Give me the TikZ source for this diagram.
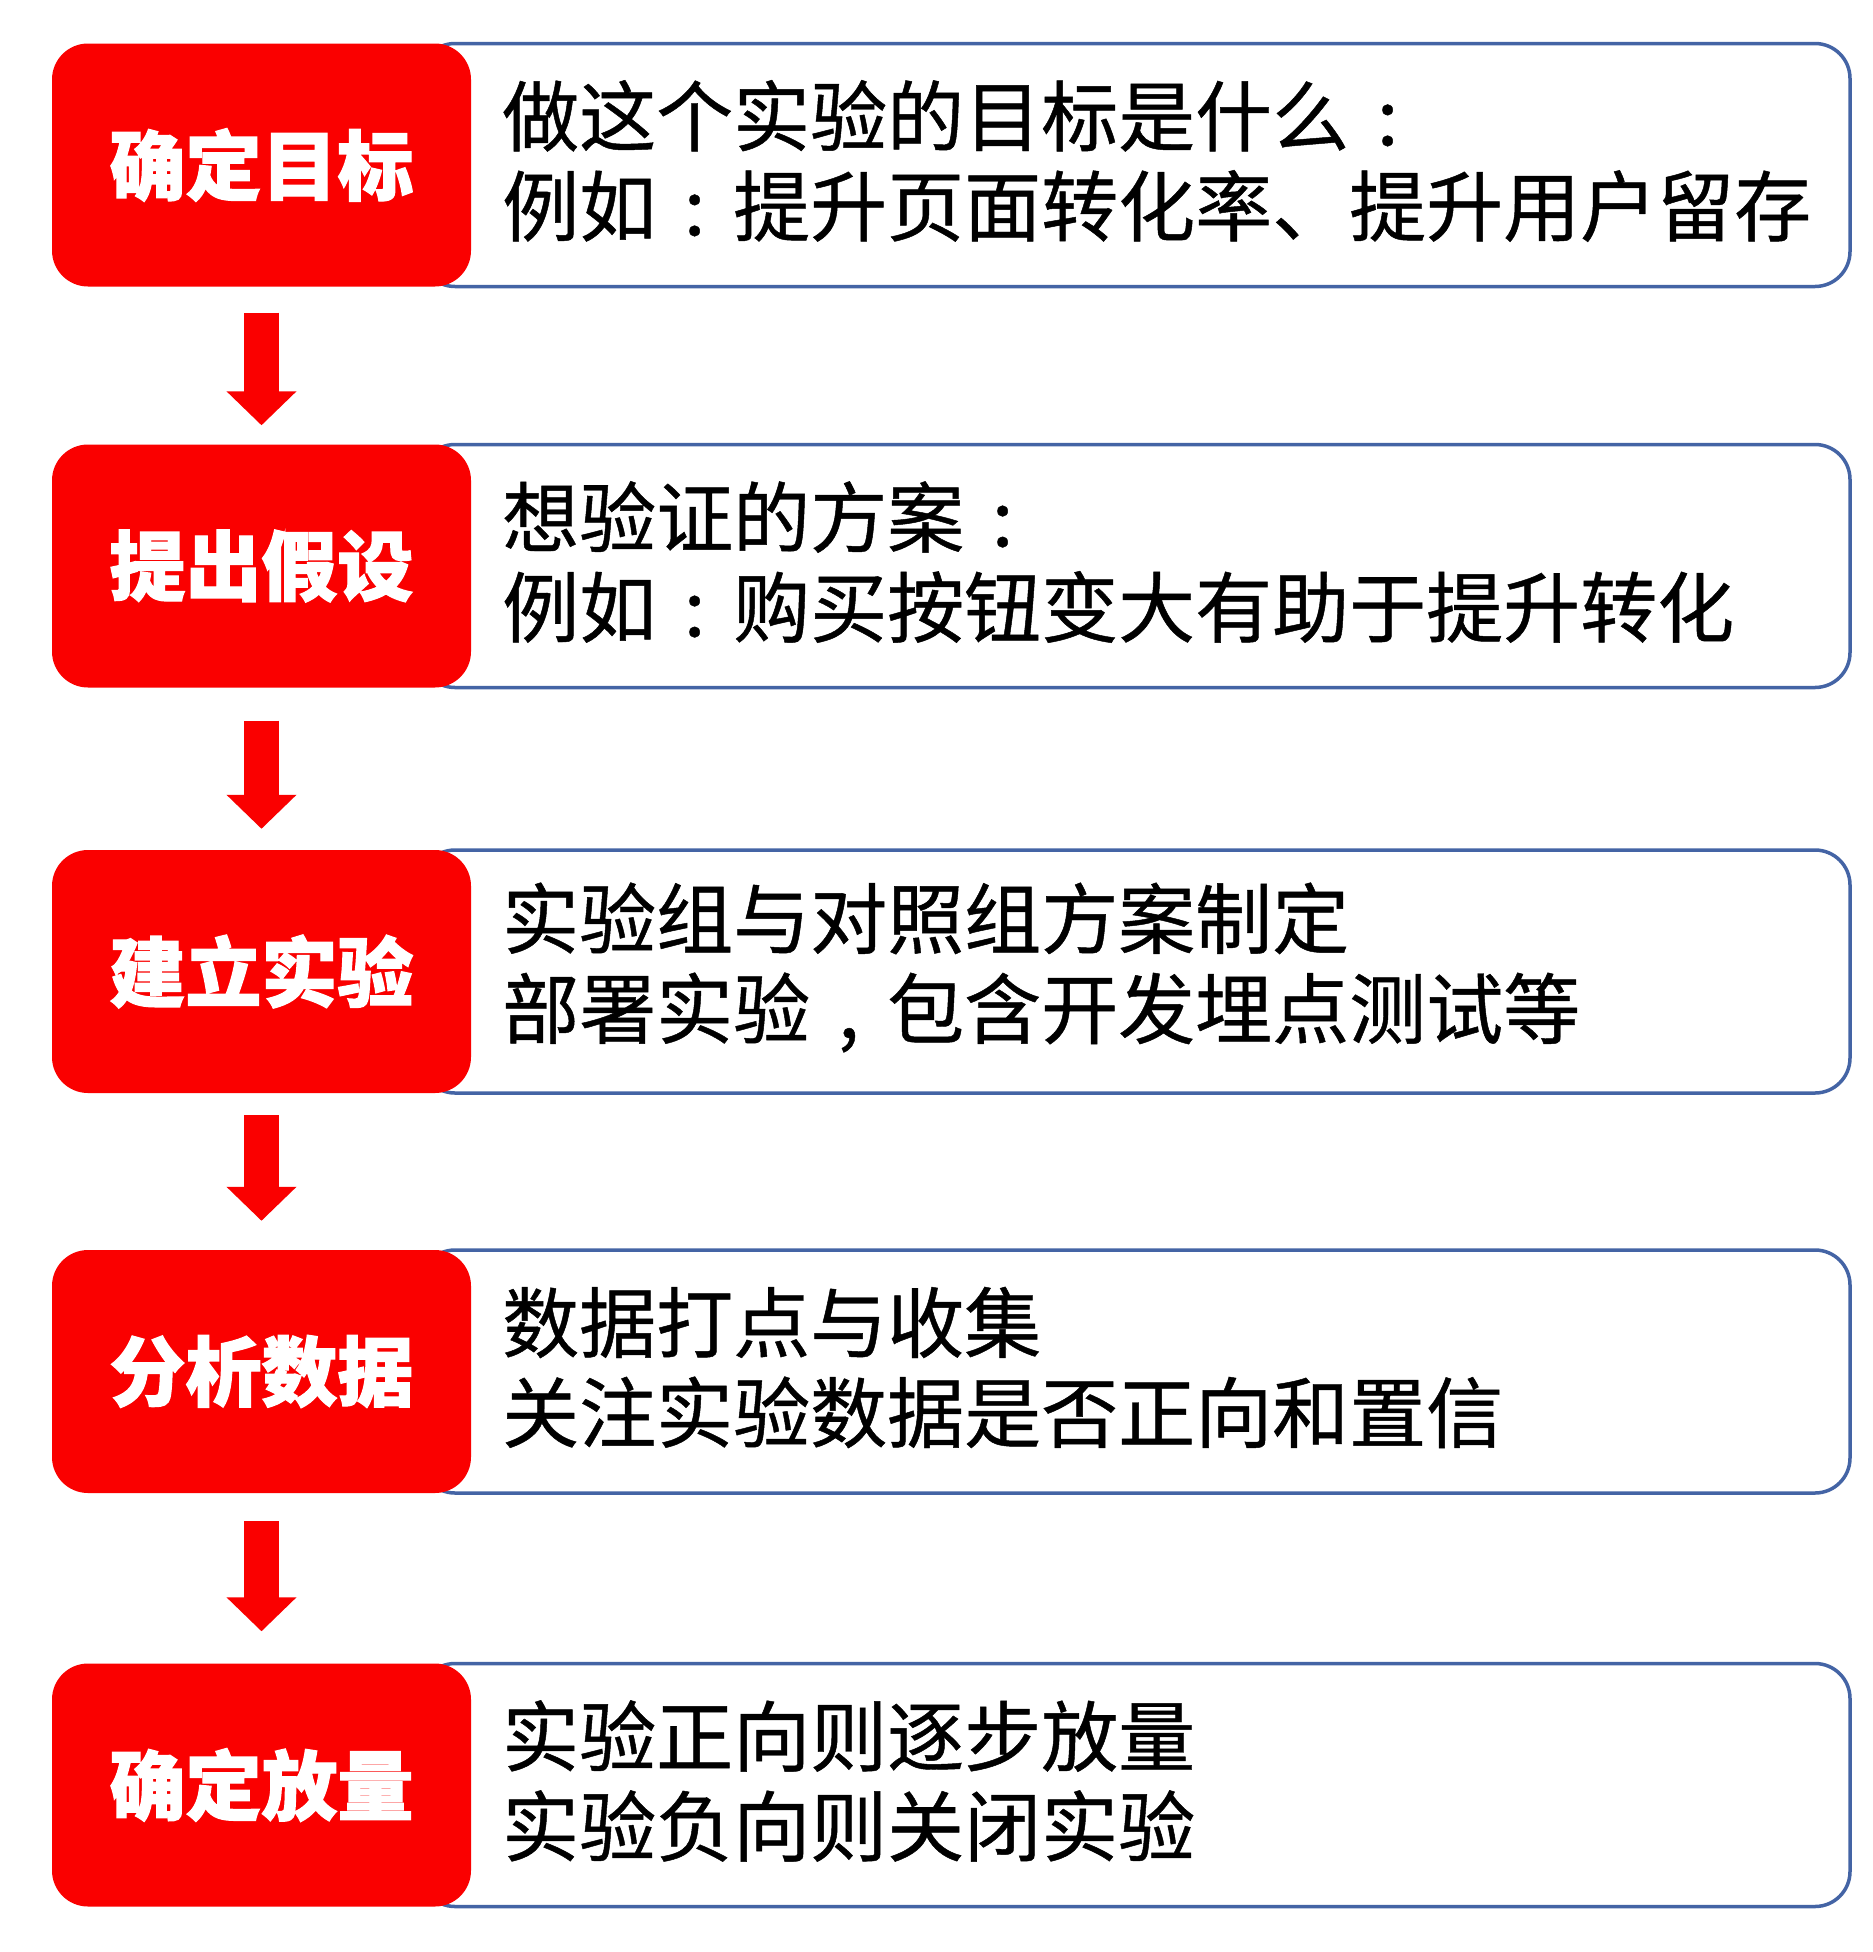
\documentclass[tikz,border=0pt]{standalone}
\usepackage{fontspec}
\newfontfamily\cjk{Noto Sans CJK SC}[FakeBold=0.6]
\newfontfamily\cjkheavy{Noto Sans CJK SC}[BoldFeatures={FakeBold=1.6}]
\usetikzlibrary{arrows.meta}
\definecolor{boxred}{RGB}{250,0,0}
\definecolor{boxblue}{RGB}{68,100,165}
\newcommand\zcolon{\makebox[1em][c]{:}}
\newcommand\zcomma{\makebox[1em][c]{,}}
\tikzset{
  outlinebox/.style={draw=boxblue, line width=3.5pt, fill=white, rounded corners=35pt,
    minimum width=1430pt, minimum height=243pt, inner sep=0pt},
  redbox/.style={fill=boxred, rounded corners=36pt, minimum width=419pt,
    minimum height=243pt, inner sep=0pt, text=white,
    font=\cjkheavy\bfseries\fontsize{76}{76}\selectfont},
  desc/.style={anchor=west, align=left, inner sep=0pt, text=black,
    font=\cjk\fontsize{77}{90}\selectfont},
  flowarrow/.style={draw=boxred, line width=35pt,
    -{Triangle[width=68pt,length=34pt]}, boxred}
}
\begin{document}
\begin{tikzpicture}[x=1pt,y=-1pt]
\useasboundingbox (0,0) rectangle (1872,1952);
\fill[white] (0,0) rectangle (1872,1952);
% outline boxes
\node[outlinebox] (o1) at (1135,165) {};
\node[outlinebox] (o2) at (1135,566) {};
\node[outlinebox] (o3) at (1135,971.5) {};
\node[outlinebox] (o4) at (1135,1371.5) {};
\node[outlinebox] (o5) at (1135,1785) {};
% red label boxes
\node[redbox] (r1) at (261.5,165) {确定目标};
\node[redbox] (r2) at (261.5,566) {提出假设};
\node[redbox] (r3) at (261.5,971.5) {建立实验};
\node[redbox] (r4) at (261.5,1371.5) {分析数据};
\node[redbox] (r5) at (261.5,1785) {确定放量};
% descriptions
\node[desc] (d1) at (502,161) {做这个实验的目标是什么\zcolon\\例如\zcolon 提升页面转化率、提升用户留存};
\node[desc] (d2) at (502,562) {想验证的方案\zcolon\\例如\zcolon 购买按钮变大有助于提升转化};
\node[desc] (d3) at (502,967.5) {实验组与对照组方案制定\\部署实验\zcomma 包含开发埋点测试等};
\node[desc] (d4) at (502,1367.5) {数据打点与收集\\关注实验数据是否正向和置信};
\node[desc] (d5) at (502,1781) {实验正向则逐步放量\\实验负向则关闭实验};
% arrows
\draw[flowarrow] ([yshift=-26pt]r1.south) -- ([yshift=19pt]r2.north);
\draw[flowarrow] ([yshift=-33pt]r2.south) -- ([yshift=21pt]r3.north);
\draw[flowarrow] ([yshift=-22pt]r3.south) -- ([yshift=29pt]r4.north);
\draw[flowarrow] ([yshift=-28pt]r4.south) -- ([yshift=32pt]r5.north);
\end{tikzpicture}
\end{document}
